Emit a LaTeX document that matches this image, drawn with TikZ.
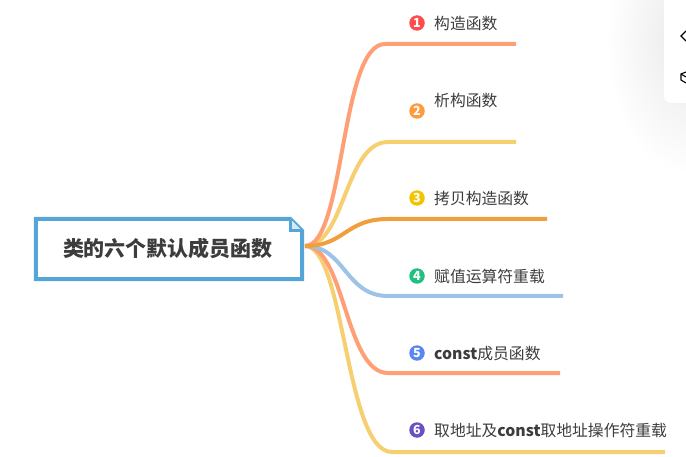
\documentclass[tikz,border=0pt]{standalone}
\usepackage{fontspec}
\usepackage{xcolor}
\usetikzlibrary{positioning}
\setmainfont{Noto Sans CJK SC}
\definecolor{rootblue}{HTML}{55A5D6}
\definecolor{foldblue}{HTML}{D6EAF6}
\definecolor{salmonline}{HTML}{FF9F75}
\definecolor{yellowline}{HTML}{F6CF70}
\definecolor{orangeline}{HTML}{F09F3C}
\definecolor{blueline}{HTML}{9DC3E6}
\definecolor{inktext}{HTML}{3C3C3C}
\definecolor{badgered}{HTML}{FF4B4B}
\definecolor{badgeorange}{HTML}{FF9A3D}
\definecolor{badgeyellow}{HTML}{F2C400}
\definecolor{badgegreen}{HTML}{22C07F}
\definecolor{badgeblue}{HTML}{5B86F2}
\definecolor{badgeviolet}{HTML}{6A4FC4}
\begin{document}
\begin{tikzpicture}[
    x=1pt, y=-1pt,
    branch/.style={line width=4pt, line cap=butt},
    badge/.style={circle, inner sep=0pt, minimum size=15.5pt, text=white,
      font=\fontsize{12.5}{12.5}\selectfont\bfseries},
    leaf/.style={anchor=west, inner sep=0pt, text=inktext,
      font=\fontsize{15.8}{16}\selectfont},
  ]
  \useasboundingbox (0,0) rectangle (686,457);

  % Side panel
  \begin{scope}
    \clip (0,0) rectangle (686,457);
    \shade[inner color=black!9, outer color=white] (690,40) ellipse [x radius=84pt, y radius=135pt];
  \end{scope}
  \fill[white, rounded corners=7pt] (664,-10) rectangle (700,103);
  \draw[black, line width=1.1pt] (686,31) -- (681,36) -- (686,41);
  \draw[black, line width=1.1pt] (686,72) -- (681,74) -- (681,80) -- (686,83);
  \draw[black, line width=1.1pt] (681,74) -- (686,77);

  % Branch ends
  \coordinate (hub) at (305,246);
  \coordinate (ctorend) at (516,44);
  \coordinate (dtorend) at (516,142);
  \coordinate (copyend) at (547,219);
  \coordinate (assignend) at (563,296);
  \coordinate (constend) at (560,373);
  \coordinate (addrend) at (665,452);

  % Branches
  \draw[branch, yellowline] (hub) .. controls (345,246) and (345,142) .. (388,142) -- (dtorend);
  \draw[branch, salmonline] (hub) .. controls (345,246) and (340,44) .. (385,44) -- (ctorend);
  \draw[branch, yellowline] (hub) .. controls (345,246) and (345,452) .. (392,452) -- (addrend);
  \draw[branch, salmonline] (hub) .. controls (345,246) and (345,373) .. (388,373) -- (constend);
  \draw[branch, blueline] (hub) .. controls (345,246) and (345,296) .. (388,296) -- (assignend);
  \draw[branch, orangeline] (hub) .. controls (345,246) and (345,219) .. (388,219) -- (copyend);

  % Root
  \node[inner sep=0pt, minimum width=266pt, minimum height=60pt] (root) at (169,249) {};
  \draw[rootblue, line width=4pt, fill=white, miter limit=2]
    (root.south west) -- (root.north west) -- ([xshift=-12pt]root.north east)
    -- ([yshift=-12pt]root.north east) -- (root.south east) -- cycle;
  \draw[rootblue, line width=2.6pt, fill=foldblue, line join=miter]
    ([xshift=-12pt]root.north east) -- ([xshift=-12pt,yshift=-12pt]root.north east)
    -- ([yshift=-12pt]root.north east);
  \node[text=inktext, font=\fontsize{21}{21}\selectfont\bfseries] (title) at (168,248) {类的六个默认成员函数};

  % Labels
  \node[badge, fill=badgered] (badgeone) at (417,23) {1};
  \node[leaf] (ctor) at (434,23.8) {构造函数};
  \node[badge, fill=badgeorange] (badgetwo) at (417,111) {2};
  \node[leaf] (dtor) at (434,100.8) {析构函数};
  \node[badge, fill=badgeyellow] (badgethree) at (417,198) {3};
  \node[leaf] (copy) at (434,198.8) {拷贝构造函数};
  \node[badge, fill=badgegreen] (badgefour) at (417,276) {4};
  \node[leaf] (assign) at (434,276.8) {赋值运算符重载};
  \node[badge, fill=badgeblue] (badgefive) at (417,353) {5};
  \node[leaf] (constfn) at (434,353.8) {\textbf{const}成员函数};
  \node[badge, fill=badgeviolet] (badgesix) at (417,430) {6};
  \node[leaf] (addr) at (434,430.8) {取地址及\textbf{const}取地址操作符重载};
\end{tikzpicture}
\end{document}
